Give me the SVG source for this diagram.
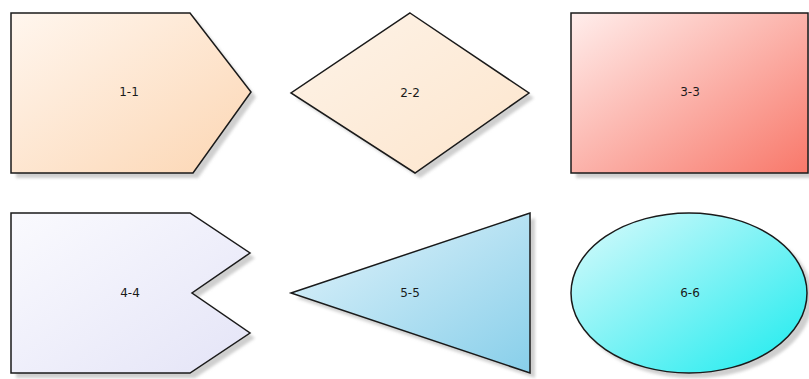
<svg xmlns="http://www.w3.org/2000/svg" width="809" height="379" viewBox="0 0 809 379">
<style>
.sh{fill:#cfcfcf;filter:url(#blur)}
.ol{stroke:#1a1a1a;stroke-width:1.5;stroke-linejoin:miter}
.lb{font-family:"DejaVu Sans",sans-serif;font-size:12px;fill:#1a1a1a;text-anchor:middle;dominant-baseline:central}
</style>
<defs>
<filter id="blur" x="-10%" y="-10%" width="120%" height="120%"><feGaussianBlur stdDeviation="1.5"/></filter>
<linearGradient id="g1" x1="0" y1="0" x2="1" y2="1"><stop offset="0" stop-color="#fff6ee"/><stop offset="1" stop-color="#fcd6b3"/></linearGradient>
<linearGradient id="g2" x1="0" y1="0" x2="1" y2="1"><stop offset="0" stop-color="#fdf3e8"/><stop offset="1" stop-color="#fde5cc"/></linearGradient>
<linearGradient id="g3" x1="0" y1="0" x2="1" y2="1"><stop offset="0" stop-color="#ffeeec"/><stop offset="1" stop-color="#f8786a"/></linearGradient>
<linearGradient id="g4" x1="0" y1="0" x2="1" y2="1"><stop offset="0" stop-color="#fafafe"/><stop offset="1" stop-color="#e4e4f7"/></linearGradient>
<linearGradient id="g5" x1="0" y1="0" x2="1" y2="1"><stop offset="0" stop-color="#e4f4fb"/><stop offset="1" stop-color="#88cfea"/></linearGradient>
<linearGradient id="g6" x1="0" y1="0" x2="1" y2="1"><stop offset="0" stop-color="#dcfafc"/><stop offset="1" stop-color="#1aebee"/></linearGradient>
</defs>
<rect width="809" height="379" fill="#ffffff"/>
<g id="node-1-1">
<polygon class="sh" points="16,18 195,18 256,97 198,178 16,178"/>
<polygon class="ol" fill="url(#g1)" points="11,13 190,13 251,92 193,173 11,173"/>
<text class="lb" x="129" y="92">1-1</text>
</g>
<g id="node-2-2">
<polygon class="sh" points="415,18 534,98 420,178 296,98"/>
<polygon class="ol" fill="url(#g2)" points="410,13 529,93 415,173 291,93"/>
<text class="lb" x="410" y="93">2-2</text>
</g>
<g id="node-3-3">
<rect class="sh" x="576" y="18" width="238" height="160"/>
<rect class="ol" fill="url(#g3)" x="571" y="13" width="237" height="160"/>
<text class="lb" x="690" y="92">3-3</text>
</g>
<g id="node-4-4">
<polygon class="sh" points="16,218 195,218 255,258 197,298 255,338 195,378 16,378"/>
<polygon class="ol" fill="url(#g4)" points="11,213 190,213 250,253 192,293 250,333 190,373 11,373"/>
<text class="lb" x="130" y="293">4-4</text>
</g>
<g id="node-5-5">
<polygon class="sh" points="296,298 535,218 535,378"/>
<polygon class="ol" fill="url(#g5)" points="291,293 530,213 530,373"/>
<text class="lb" x="410" y="293">5-5</text>
</g>
<g id="node-6-6">
<ellipse class="sh" cx="694" cy="298" rx="119" ry="80"/>
<ellipse class="ol" fill="url(#g6)" cx="689" cy="293" rx="118" ry="80"/>
<text class="lb" x="690" y="293">6-6</text>
</g>
<g id="connectors"></g>
</svg>
